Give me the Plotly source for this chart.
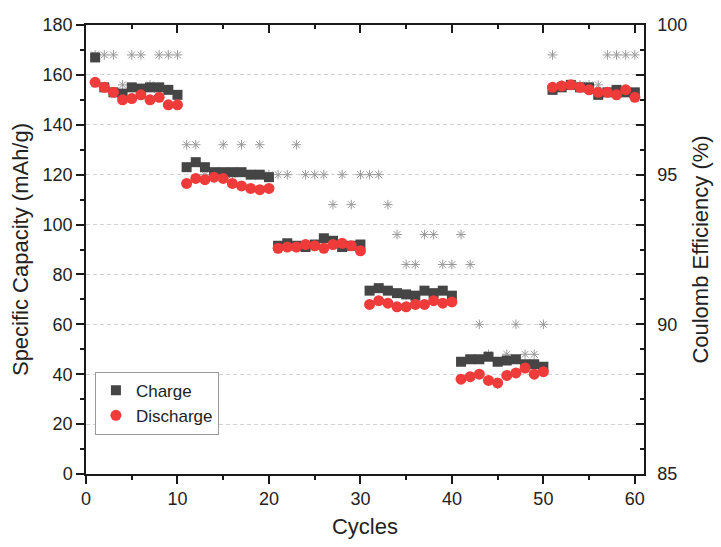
import plotly.graph_objects as go

cycles = list(range(1, 61))

charge = [167, 155, 153, 152.5, 155, 154.5, 155, 155, 154, 152,
          123, 125, 123, 121, 121, 121, 121, 120, 120, 119,
          91.5, 92.5, 91.5, 91, 92, 94.5, 93.5, 91, 91.5, 92,
          73.5, 74.5, 73.5, 72.5, 72, 71.5, 73.5, 72.5, 73.5, 71.5,
          45, 46, 46, 47, 45, 45.5, 46, 44, 44, 43,
          154, 155, 156, 155, 155, 152, 153, 154, 153, 153]

discharge = [157, 155, 153, 150, 150.5, 152, 150, 151, 148, 148,
             116.5, 118.5, 118, 119, 118.5, 116.5, 115.5, 114.5, 114, 114.5,
             90.5, 91, 91, 92, 91.5, 90.5, 92, 92.5, 91.5, 89.5,
             68, 69.5, 68.5, 67, 67, 68, 68, 69.5, 68.5, 69,
             38, 39, 40, 37.5, 36.5, 39.5, 40.5, 42.5, 40, 41,
             155, 155.5, 156, 155, 154, 153, 153, 152, 154, 151]

coulomb_eff = [99, 99, 99, 98, 99, 99, 98, 99, 99, 99,
               96, 96, 95, 95, 96, 95, 96, 95, 96, 95,
               95, 95, 96, 95, 95, 95, 94, 95, 94, 95,
               95, 95, 94, 93, 92, 92, 93, 93, 92, 92,
               93, 92, 90, 89, 88, 89, 90, 89, 89, 90,
               99, 98, 98, 98, 98, 98, 99, 99, 99, 99]

y2_ticks = [85, 90, 95, 100]

FONT = "Liberation Sans, Arial, sans-serif"
TXT = "#222222"
AX = "#1a1a1a"

fig = go.Figure()

# invisible helper on the main subplot
fig.add_trace(go.Scatter(
    x=cycles, y=charge, mode="markers", showlegend=False, hoverinfo="skip",
    marker=dict(opacity=0), xaxis="x", yaxis="y"))
# Coulomb efficiency (drawn underneath the capacity markers)
fig.add_trace(go.Scatter(
    x=cycles, y=coulomb_eff, mode="markers", name="CE", showlegend=False,
    marker=dict(symbol="asterisk-open", size=8, color="#9a9a9a",
                line=dict(width=1, color="#9a9a9a")),
    xaxis="x", yaxis="y2"))
fig.add_trace(go.Scatter(
    x=cycles, y=charge, mode="markers", name="Charge",
    marker=dict(symbol="square", size=10, color="#454545"),
    xaxis="x", yaxis="y3"))
fig.add_trace(go.Scatter(
    x=cycles, y=discharge, mode="markers", name="Discharge",
    marker=dict(symbol="circle", size=11, color="#f03b3b"),
    xaxis="x", yaxis="y3"))
# invisible helper so the mirrored top tick axis is drawn
fig.add_trace(go.Scatter(
    x=cycles, y=charge, mode="markers", showlegend=False, hoverinfo="skip",
    marker=dict(opacity=0), xaxis="x2", yaxis="y3"))

axis_common = dict(showline=True, linecolor=AX, linewidth=1.5,
                   zeroline=False, tickcolor=AX, tickwidth=1.5)

fig.update_layout(
    width=721, height=547,
    margin=dict(l=86, r=73, t=25, b=71),
    paper_bgcolor="white", plot_bgcolor="white",
    font=dict(family=FONT, size=18, color=TXT),
    xaxis=dict(range=[0, 61], dtick=10, tick0=0, ticks="outside", ticklen=8,
               minor=dict(dtick=5, ticks="outside", ticklen=4,
                          tickcolor=AX, tickwidth=1.5),
               showgrid=False,
               title=dict(text="Cycles", font=dict(size=22, color=TXT), standoff=10),
               tickfont=dict(size=18, color=TXT), **axis_common),
    xaxis2=dict(range=[0, 61], overlaying="x", side="top",
                dtick=10, tick0=0,
                ticks="inside", ticklen=8, showticklabels=False,
                minor=dict(dtick=5, ticks="inside", ticklen=4,
                           tickcolor=AX, tickwidth=1.5),
                showgrid=False, **axis_common),
    yaxis=dict(range=[0, 180], dtick=20, tick0=0, ticks="outside", ticklen=8,
               minor=dict(dtick=10, ticks="outside", ticklen=4,
                          tickcolor=AX, tickwidth=1.5),
               showgrid=True, gridcolor="#d2d2d2", griddash="4px,3px", gridwidth=1,
               title=dict(text="Specific Capacity (mAh/g)",
                          font=dict(size=22, color=TXT), standoff=8),
               tickfont=dict(size=18, color=TXT), **axis_common),
    yaxis2=dict(range=[85, 100], overlaying="y", side="right",
                tickvals=y2_ticks, ticks="", showgrid=False,
                ticklabelstandoff=8,
                title=dict(text="Coulomb Efficiency (%)",
                           font=dict(size=22, color=TXT), standoff=6),
                tickfont=dict(size=18, color=TXT),
                showline=True, linecolor=AX, linewidth=1.5, zeroline=False),
    yaxis3=dict(range=[0, 180], overlaying="y", side="right",
                dtick=20, tick0=0, ticks="inside", ticklen=8,
                showticklabels=False, showgrid=False,
                minor=dict(dtick=10, ticks="inside", ticklen=4,
                           tickcolor=AX, tickwidth=1.5),
                **axis_common),
    legend=dict(x=0.016, y=0.228, xanchor="left", yanchor="top",
                bgcolor="white", bordercolor="#9a9a9a", borderwidth=1,
                font=dict(size=17, color=TXT), itemsizing="trace",
                tracegroupgap=2),
    showlegend=True,
)

fig.write_html("out.html")
